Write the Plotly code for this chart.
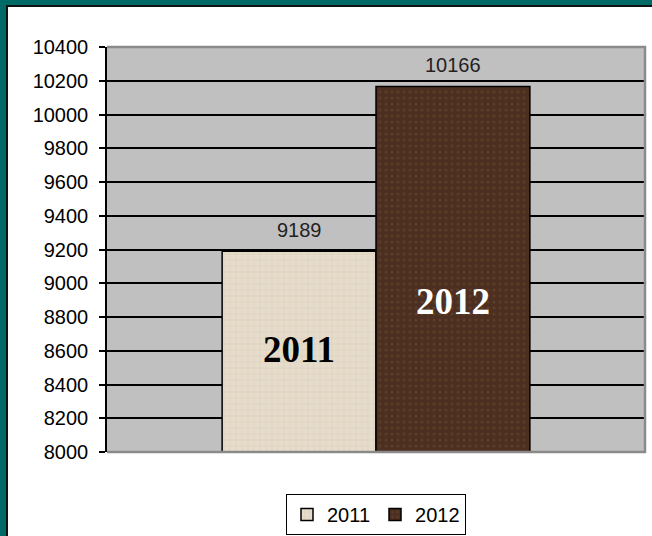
import plotly.graph_objects as go

# --- data ---
years = ["2011", "2012"]
values = [9189, 10166]
year_label_y = [8609, 8894]   # where the big year captions sit inside the bars
y_ticks = list(range(8000, 10401, 200))

# --- look ---
W, H = 652, 536
L, R, T, B = 107, 7, 47, 84
bar_colors = ["#e6dccb", "#4c2f20"]
pattern_fg = ["#d2c5ad", "#6f4b30"]
pattern_shape = ["+", "."]
caption_colors = ["#000000", "#ffffff"]
teal = "#006b66"
font = "Arial, Liberation Sans, sans-serif"
bargap = 0.428

fig = go.Figure()
for i, yr in enumerate(years):
    fig.add_trace(go.Bar(
        x=[0], y=[values[i]], name=yr,
        marker=dict(color=bar_colors[i],
                    line=dict(color="black", width=1.5),
                    pattern=dict(shape=pattern_shape[i], fgcolor=pattern_fg[i],
                                 size=6, solidity=0.2)),
    ))

# bar centre offsets inside the single category
half = (1 - bargap) / 4
offsets = [-half, half]

annotations = []
for i, yr in enumerate(years):
    annotations.append(dict(x=offsets[i], y=values[i], xref="x", yref="y",
                            text=str(values[i]), showarrow=False,
                            yanchor="bottom", yshift=8,
                            font=dict(family=font, size=20, color="#222222")))
    annotations.append(dict(x=offsets[i], y=year_label_y[i], xref="x", yref="y",
                            text="<b>%s</b>" % yr, showarrow=False,
                            font=dict(family="Liberation Serif, Times New Roman, serif",
                                      size=37, color=caption_colors[i])))

pw = W - L - R
ph = H - T - B
shapes = [
    # grey frame on top, right and bottom of the plot area
    dict(type="path", xref="paper", yref="paper",
         path="M 0 1 L 1 1 L 1 0 L 0 0",
         line=dict(color="#8a8a8a", width=2.5), layer="above"),
    # teal frame of the slide (top and left)
    dict(type="rect", xref="paper", yref="paper",
         x0=-L / pw, x1=1 + R / pw, y0=1 + (T - 5) / ph, y1=1 + T / ph,
         fillcolor=teal, line=dict(width=0)),
    dict(type="rect", xref="paper", yref="paper",
         x0=-L / pw, x1=(-L + 6) / pw, y0=-B / ph, y1=1 + T / ph,
         fillcolor=teal, line=dict(width=0)),
    dict(type="line", xref="paper", yref="paper",
         x0=(-L + 6) / pw, x1=1 + R / pw, y0=1 + (T - 6) / ph, y1=1 + (T - 6) / ph,
         line=dict(color="#111111", width=2)),
    dict(type="line", xref="paper", yref="paper",
         x0=(-L + 7) / pw, x1=(-L + 7) / pw, y0=-B / ph, y1=1 + (T - 5) / ph,
         line=dict(color="#111111", width=2)),
]

fig.update_layout(
    width=W, height=H,
    margin=dict(l=L, r=R, t=T, b=B, autoexpand=False),
    paper_bgcolor="white",
    plot_bgcolor="#c0c0c0",
    barmode="group",
    bargap=bargap,
    bargroupgap=0,
    font=dict(family=font, size=20, color="black"),
    xaxis=dict(range=[-0.5, 0.5], showticklabels=False, showgrid=False,
               zeroline=False, fixedrange=True),
    yaxis=dict(range=[8000, 10400], tickvals=y_ticks, tickformat="d",
               showgrid=True, gridcolor="black", gridwidth=1.5, zeroline=False,
               showline=True, linecolor="black", linewidth=1.5,
               ticks="outside", ticklen=6, tickcolor="black", tickwidth=1.5,
               ticklabelstandoff=7,
               tickfont=dict(family=font, size=20, color="black")),
    legend=dict(orientation="h", x=0.5, xanchor="center",
                y=-(494 - T - ph) / ph, yanchor="top",
                bordercolor="black", borderwidth=1, bgcolor="white",
                font=dict(family=font, size=20, color="black"),
                itemwidth=30),
    showlegend=True,
    annotations=annotations,
    shapes=shapes,
)

fig.write_html("out.html", config={"displayModeBar": False},
               post_script="document.body.style.margin='0px';")
